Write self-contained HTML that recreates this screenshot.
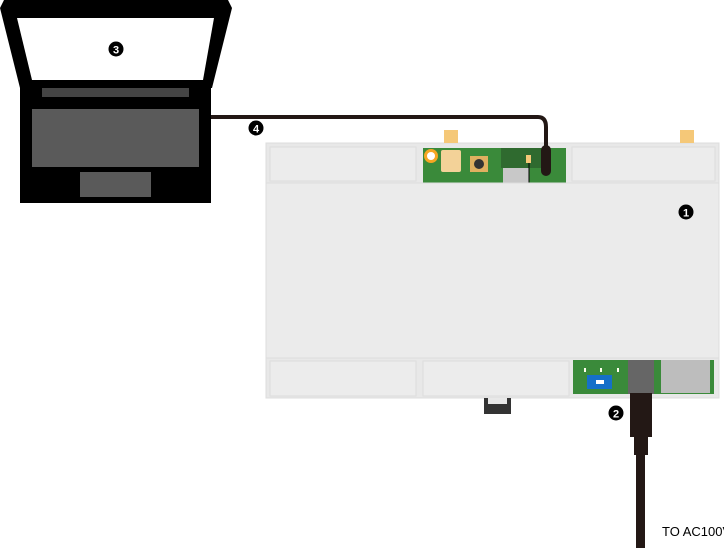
<!DOCTYPE html>
<html><head><style>body{margin:0;background:#fff}svg{display:block}</style></head><body>
<svg width="724" height="548" viewBox="0 0 724 548" xmlns="http://www.w3.org/2000/svg" font-family="Liberation Sans, sans-serif">
<!-- laptop -->
<polygon points="0,8 4,0 228,0 232,8 212,88 20,88" fill="#000"/>
<polygon points="17,18 214,18 203,80 32,80" fill="#fff"/>
<rect x="20" y="86" width="191" height="117" fill="#000"/>
<rect x="42" y="88" width="147" height="9" fill="#444"/>
<rect x="32" y="109" width="167" height="58" fill="#5a5a5a"/>
<rect x="80" y="172" width="71" height="25" fill="#5a5a5a"/>
<circle cx="116" cy="49" r="7.5" fill="#000"/><text x="116" y="53.5" fill="#fff" font-size="11" font-weight="bold" text-anchor="middle">3</text>
<!-- device top strip -->
<rect x="266" y="143" width="453" height="41" fill="#e8e8e8" stroke="#ddd"/>
<rect x="270" y="147" width="146" height="34" fill="#ececec" stroke="#ddd"/>
<rect x="572" y="147" width="143" height="34" fill="#ececec" stroke="#ddd"/>
<rect x="444" y="130" width="14" height="13" fill="#f5c878"/>
<rect x="680" y="130" width="14" height="13" fill="#f5c878"/>
<rect x="423" y="148" width="143" height="35" fill="#3a8a3a"/>
<rect x="501" y="148" width="40" height="20" fill="#2f6a2f"/>
<rect x="503" y="168" width="26" height="15" fill="#c8c8c8"/>
<rect x="526" y="155" width="5" height="8" fill="#f5c878"/>
<line x1="529" y1="163" x2="529" y2="183" stroke="#000"/>
<circle cx="431" cy="156" r="7" fill="#f5a623"/><circle cx="431" cy="156" r="4" fill="#fff"/>
<rect x="441" y="150" width="20" height="22" rx="2" fill="#f3d298"/>
<rect x="470" y="156" width="18" height="16" fill="#e0b060"/><circle cx="479" cy="164" r="5" fill="#333"/>
<!-- main body -->
<rect x="266" y="183" width="453" height="176" fill="#ebebeb" stroke="#ddd"/>
<circle cx="686" cy="212" r="7.5" fill="#000"/><text x="686" y="216.5" fill="#fff" font-size="11" font-weight="bold" text-anchor="middle">1</text>
<!-- bottom strip -->
<rect x="266" y="358" width="453" height="40" fill="#e8e8e8" stroke="#ddd"/>
<rect x="270" y="361" width="146" height="35" fill="#ececec" stroke="#ddd"/>
<rect x="423" y="361" width="146" height="35" fill="#ececec" stroke="#ddd"/>
<rect x="573" y="360" width="141" height="34" fill="#3a8a3a"/>
<rect x="587" y="375" width="25" height="14" fill="#1570c8"/><rect x="596" y="380" width="8" height="4" fill="#fff"/>
<rect x="584" y="368" width="2" height="4" fill="#ffe"/><rect x="600" y="368" width="2" height="4" fill="#ffe"/><rect x="617" y="368" width="2" height="4" fill="#ffe"/>
<rect x="628" y="360" width="26" height="34" fill="#666"/>
<rect x="661" y="360" width="49" height="33" fill="#bdbdbd"/>
<rect x="484" y="398" width="27" height="16" fill="#333"/><rect x="488" y="398" width="19" height="6" fill="#e8e8e8"/>
<!-- power cable -->
<rect x="630" y="393" width="22" height="44" fill="#231815"/>
<rect x="634" y="437" width="14" height="18" fill="#231815"/>
<rect x="636" y="455" width="9" height="93" fill="#231815"/>
<circle cx="616" cy="413" r="7.5" fill="#000"/><text x="616" y="417.5" fill="#fff" font-size="11" font-weight="bold" text-anchor="middle">2</text>
<text x="662" y="536" font-size="13" fill="#000">TO AC100V</text>
<!-- laptop cable -->
<path d="M211,117 H538 Q546,117 546,127 V150" fill="none" stroke="#231815" stroke-width="4"/>
<rect x="541" y="145" width="10" height="31" rx="5" fill="#231815"/>
<circle cx="256" cy="128" r="7.5" fill="#000"/><text x="256" y="132.5" fill="#fff" font-size="11" font-weight="bold" text-anchor="middle">4</text>
</svg>
</body></html>
